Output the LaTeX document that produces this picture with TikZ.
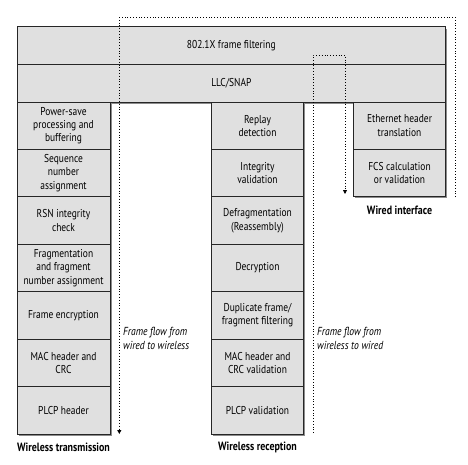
\documentclass[tikz,border=0pt]{standalone}
\usepackage{fontspec}
\setmainfont{PT Sans}[FakeStretch=0.83]
\usetikzlibrary{arrows.meta,shadows}
\definecolor{boxgray}{gray}{0.88}
\begin{document}
\begin{tikzpicture}
  [x=1pt,y=-1pt,font=\fontsize{11.4}{13.3}\selectfont,
   layer/.style={rectangle,draw=black!85,line width=0.9pt,fill=boxgray,
     inner sep=0pt,align=center,minimum height=47.43pt,
     drop shadow={shadow xshift=1.6pt,shadow yshift=-1.6pt,fill=black!45,opacity=1}},
   tx/.style={layer,minimum width=93pt},
   rx/.style={layer,minimum width=91.6pt},
   wd/.style={layer,minimum width=92.4pt},
   caption/.style={font=\fontsize{12}{13}\selectfont\bfseries},
   note/.style={font=\fontsize{11.6}{13.3}\selectfont\itshape,align=left,anchor=west,inner sep=0pt},
   flow/.style={dotted,line width=0.8pt,-{Triangle[length=4pt,width=4pt]}}]
  \useasboundingbox (0,0) rectangle (468,465);
  % shared layers
  \node (dot1x)[layer,minimum width=428.7pt,minimum height=37.3pt] at (231.35,45.6) {802.1X frame filtering};
  \node (llc)[layer,minimum width=428.7pt,minimum height=37.9pt] at (231.35,83.05) {LLC/SNAP};
  % wireless transmission
  \node (t1)[tx] at (63.5,125.7) {Power-save\\processing and\\buffering};
  \node (t2)[tx] at (63.5,173.1) {Sequence\\number\\assignment};
  \node (t3)[tx] at (63.5,220.6) {RSN integrity\\check};
  \node (t4)[tx] at (63.5,268.0) {Fragmentation\\and fragment\\number assignment};
  \node (t5)[tx] at (63.5,315.4) {Frame encryption};
  \node (t6)[tx] at (63.5,362.9) {MAC header and\\CRC};
  \node (t7)[tx] at (63.5,410.3) {PLCP header};
  % wireless reception
  \node (r1)[rx] at (257.5,125.7) {Replay\\detection};
  \node (r2)[rx] at (257.5,173.1) {Integrity\\validation};
  \node (r3)[rx] at (257.5,220.6) {Defragmentation\\(Reassembly)};
  \node (r4)[rx] at (257.5,268.0) {Decryption};
  \node (r5)[rx] at (257.5,315.4) {Duplicate frame/\\fragment filtering};
  \node (r6)[rx] at (257.5,362.9) {MAC header and\\CRC validation};
  \node (r7)[rx] at (257.5,410.3) {PLCP validation};
  % wired interface
  \node (w1)[wd] at (399.5,125.7) {Ethernet header\\translation};
  \node (w2)[wd] at (399.5,173.1) {FCS calculation\\or validation};
  % captions
  \node (txcap)[caption] at (63.5,447) {Wireless transmission};
  \node (rxcap)[caption] at (257.5,447) {Wireless reception};
  \node (wdcap)[caption] at (399.5,210) {Wired interface};
  \node (txnote)[note] at (123,338.5) {Frame flow from\\wired to wireless};
  \node (rxnote)[note] at (317,338.5) {Frame flow from\\wireless to wired};
  % frame flows
  \coordinate (a1) at (455.5,197);
  \coordinate (a2) at (119.3,17.5);
  \coordinate (a3) at (119.3,434);
  \coordinate (b1) at (313.3,433);
  \coordinate (b2) at (345,55);
  \coordinate (b3) at (345,194);
  \draw[flow] (a1) |- (a2) -- (a3);
  \draw[flow] (b1) |- (b2) -- (b3);
\end{tikzpicture}
\end{document}
